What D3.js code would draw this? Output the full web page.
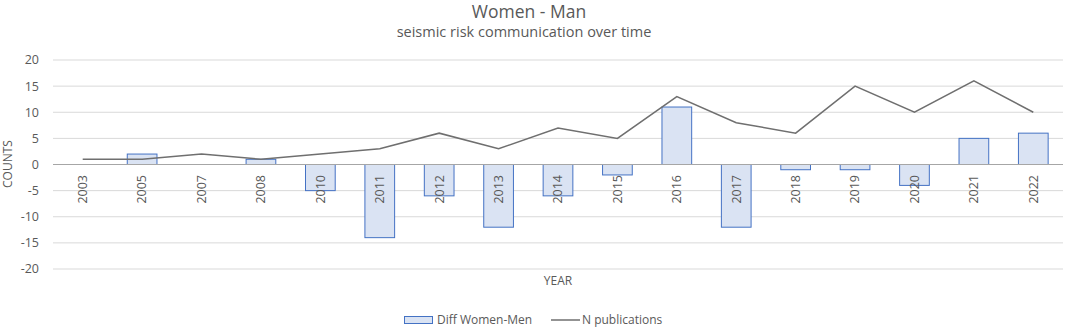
<!DOCTYPE html>
<html>
<head>
<meta charset="utf-8">
<script src="https://cdn.jsdelivr.net/npm/d3@7"></script>
<style>
  body { margin: 0; background: #fff; }
  text { font-family: "Open Sans", sans-serif; fill: #595959; }
</style>
</head>
<body>
<div id="chart"></div>
<script>
// data
var years = ["2003","2005","2007","2008","2010","2011","2012","2013","2014","2015","2016","2017","2018","2019","2020","2021","2022"];
var diffWomenMen = [0, 2, 0, 1, -5, -14, -6, -12, -6, -2, 11, -12, -1, -1, -4, 5, 6];
var nPublications = [1, 1, 2, 1, 2, 3, 6, 3, 7, 5, 13, 8, 6, 15, 10, 16, 10];
var yTicks = [-20, -15, -10, -5, 0, 5, 10, 15, 20];

var width = 1065, height = 329;
var margin = {top: 60, right: 2, bottom: 60, left: 53};

var svg = d3.select("#chart")
  .append("svg")
    .attr("width", width)
    .attr("height", height);

var x = d3.scaleBand()
  .domain(years)
  .range([margin.left, width - margin.right])
  .paddingInner(0.5)
  .paddingOuter(0.25);

var y = d3.scaleLinear()
  .domain([-20, 20])
  .range([269, 60]);

// gridlines
svg.append("g")
  .selectAll("line")
  .data(yTicks)
  .enter().append("line")
    .attr("x1", margin.left)
    .attr("x2", width - margin.right)
    .attr("y1", function(d) { return y(d); })
    .attr("y2", function(d) { return y(d); })
    .attr("stroke", "#d9d9d9")
    .attr("stroke-width", 1);

// y axis labels
svg.append("g")
  .selectAll("text")
  .data(yTicks)
  .enter().append("text")
    .attr("x", 39)
    .attr("y", function(d) { return y(d); })
    .attr("dy", "0.35em")
    .attr("text-anchor", "end")
    .style("font-size", "12.5px")
    .text(function(d) { return d; });

// bars
svg.append("g")
  .selectAll("rect")
  .data(years)
  .enter().append("rect")
    .attr("x", function(d) { return x(d); })
    .attr("y", function(d, i) { return y(Math.max(0, diffWomenMen[i])); })
    .attr("width", x.bandwidth())
    .attr("height", function(d, i) { return Math.abs(y(diffWomenMen[i]) - y(0)); })
    .attr("fill", "#dae3f3")
    .attr("stroke", "#4472c4")
    .attr("stroke-width", 1)
    .style("display", function(d, i) { return diffWomenMen[i] === 0 ? "none" : null; });

// zero axis
svg.append("line")
  .attr("x1", margin.left)
  .attr("x2", width - margin.right)
  .attr("y1", y(0))
  .attr("y2", y(0))
  .attr("stroke", "#a6a6a6")
  .attr("stroke-width", 1);

// x labels, rotated
svg.append("g")
  .selectAll("text")
  .data(years)
  .enter().append("text")
    .attr("transform", function(d) {
      return "translate(" + (x(d) + x.bandwidth() / 2) + "," + 175 + ") rotate(-90)";
    })
    .attr("dy", "0.35em")
    .attr("text-anchor", "end")
    .style("font-size", "12.5px")
    .text(function(d) { return d; });

// line
var line = d3.line()
  .x(function(d, i) { return x(years[i]) + x.bandwidth() / 2; })
  .y(function(d) { return y(d); });

svg.append("path")
  .datum(nPublications)
  .attr("d", line)
  .attr("fill", "none")
  .attr("stroke", "#6f6f6f")
  .attr("stroke-width", 1.5);

// titles
svg.append("text")
  .attr("x", 529).attr("y", 18)
  .attr("text-anchor", "middle")
  .style("font-size", "17.5px")
  .text("Women - Man");

svg.append("text")
  .attr("x", 524).attr("y", 37)
  .attr("text-anchor", "middle")
  .style("font-size", "14.5px")
  .text("seismic risk communication over time");

// axis titles
svg.append("text")
  .attr("transform", "translate(8,164) rotate(-90)")
  .attr("dy", "0.35em")
  .attr("text-anchor", "middle")
  .style("font-size", "12px")
  .text("COUNTS");

svg.append("text")
  .attr("x", 558).attr("y", 285)
  .attr("text-anchor", "middle")
  .style("font-size", "12px")
  .text("YEAR");

// legend
var legend = svg.append("g");
legend.append("rect")
  .attr("x", 404.5).attr("y", 316.5)
  .attr("width", 28).attr("height", 7)
  .attr("fill", "#dae3f3")
  .attr("stroke", "#4472c4");
legend.append("text")
  .attr("x", 437).attr("y", 324)
  .style("font-size", "12px")
  .text("Diff Women-Men");
legend.append("line")
  .attr("x1", 551).attr("x2", 580)
  .attr("y1", 320).attr("y2", 320)
  .attr("stroke", "#6f6f6f")
  .attr("stroke-width", 1.5);
legend.append("text")
  .attr("x", 582).attr("y", 324)
  .style("font-size", "12px")
  .text("N publications");
</script>
</body>
</html>
